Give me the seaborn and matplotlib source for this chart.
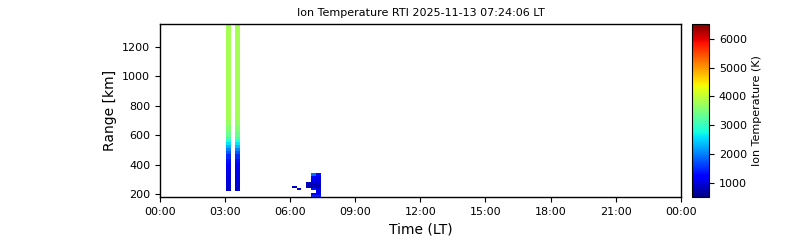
import numpy as np
import matplotlib
matplotlib.use("Agg")
import matplotlib.pyplot as plt
import seaborn as sns
from matplotlib.ticker import MultipleLocator, FuncFormatter

sns.set_style("ticks", {"axes.edgecolor": "black", "text.color": "black",
                        "xtick.color": "black", "ytick.color": "black",
                        "axes.labelcolor": "black"})
plt.rcParams['font.family'] = ['DejaVu Sans']

title = "Ion Temperature RTI 2025-11-13 07:24:06 LT"
x_label = "Time (LT)"
y_label = "Range [km]"
cbar_label = "Ion Temperature (K)"
t_min, t_max = 0, 24
t_min_k, t_max_k = 500, 6500
cbar_ticks = [1000, 2000, 3000, 4000, 5000, 6000]

# Two profiles near 03:00 LT (hours), gap column in between
bar_time_edges_h = [3.05, 3.28, 3.46, 3.69]
bar_range_edges_km = [222, 260, 300, 340, 380, 410, 440, 470, 490, 510,
                      530, 550, 570, 590, 620, 660, 700, 1352]
bar1_temp_k = [920, 980, 1030, 1080, 1180, 1330, 1500, 1750, 2000, 2300,
               2600, 2850, 3100, 3350, 3550, 3700, 3800]
bar2_temp_k = [930, 990, 1040, 1090, 1190, 1340, 1520, 1780, 2030, 2330,
               2620, 2880, 3120, 3370, 3560, 3710, 3800]

# Low-altitude patch around 06:00-07:30 LT
blob_time_edges_h = [6.08, 6.31, 6.52, 6.73, 6.96, 7.18, 7.40]
blob_range_edges_km = [178, 193, 207, 227, 241, 254, 268, 281, 300, 320, 343]
nan = np.nan
blob_col0_k = [nan, nan, nan, nan, 900, nan, nan, nan, nan, nan]
blob_col1_k = [nan, nan, nan, 850, nan, nan, nan, nan, nan, nan]
blob_col2_k = [nan, nan, nan, nan, nan, nan, nan, nan, nan, nan]
blob_col3_k = [nan, nan, nan, nan, 800, 800, 820, nan, nan, nan]
blob_col4_k = [1500, 1250, nan, 1350, 800, 780, 950, 1100, 1200, 1900]
blob_col5_k = [1450, 1150, 1100, 1000, 760, 800, 950, 1000, 1100, 1300]

cmap = matplotlib.colormaps["jet"]

fig = plt.figure(figsize=(8, 2.4), dpi=100)
ax = fig.add_axes([0.2, 0.178, 0.651, 0.721])
cax = fig.add_axes([0.865, 0.178, 0.0213, 0.721])

bar_grid = np.column_stack([bar1_temp_k, np.full(len(bar1_temp_k), np.nan), bar2_temp_k])
mesh = ax.pcolormesh(bar_time_edges_h, bar_range_edges_km, np.ma.masked_invalid(bar_grid),
                     cmap=cmap, vmin=t_min_k, vmax=t_max_k, shading="flat")

blob_grid = np.column_stack([blob_col0_k, blob_col1_k, blob_col2_k,
                             blob_col3_k, blob_col4_k, blob_col5_k])
ax.pcolormesh(blob_time_edges_h, blob_range_edges_km, np.ma.masked_invalid(blob_grid),
              cmap=cmap, vmin=t_min_k, vmax=t_max_k, shading="flat")

ax.set_xlim(t_min, t_max)
ax.set_ylim(min(blob_range_edges_km), max(bar_range_edges_km))
ax.xaxis.set_major_locator(MultipleLocator(3))
ax.xaxis.set_major_formatter(FuncFormatter(lambda v, p: f"{int(round(v)) % 24:02d}:00"))
ax.yaxis.set_major_locator(MultipleLocator(200))
ax.tick_params(labelsize=8)
ax.set_xlabel(x_label, fontsize=10)
ax.set_ylabel(y_label, fontsize=10)
ax.set_title(title, fontsize=8)
for s in ax.spines.values():
    s.set_visible(True)
    s.set_linewidth(1.0)

cb = fig.colorbar(mesh, cax=cax)
cb.set_ticks(cbar_ticks)
cb.ax.tick_params(labelsize=8)
cb.set_label(cbar_label, fontsize=8)

fig.savefig("out.png", dpi=100)
